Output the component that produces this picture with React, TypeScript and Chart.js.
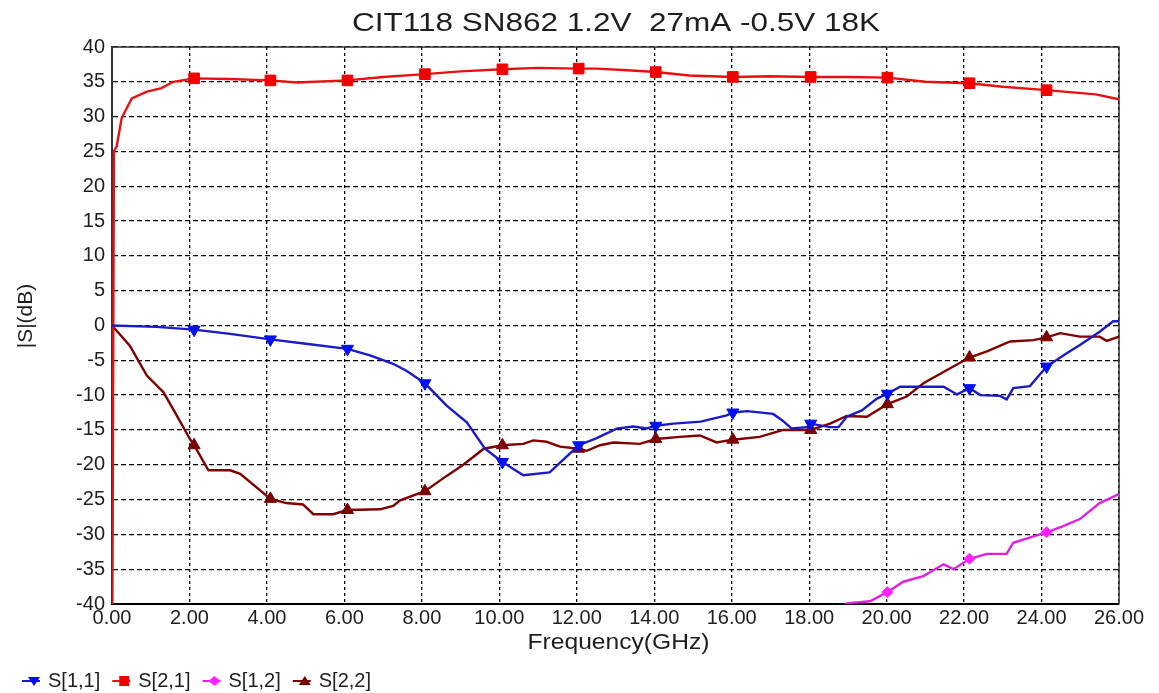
import React, { useEffect, useRef } from 'react';
import { Chart, registerables } from 'chart.js';

Chart.register(...registerables);

const chartTitle = 'CIT118 SN862 1.2V  27mA -0.5V 18K';
const xAxisTitle = 'Frequency(GHz)';
const yAxisTitle = '|S|(dB)';
const seriesNames = ['S[1,1]', 'S[2,1]', 'S[1,2]', 'S[2,2]'];

const xMin = 0;
const xMax = 26;
const xStep = 2;
const yMin = -40;
const yMax = 40;
const yStep = 5;

const markerFreqs = [2.12, 4.09, 6.08, 8.08, 10.08, 12.05, 14.04, 16.03, 18.04, 20.02, 22.14, 24.13];

const s11Freq = [0, 1.15, 2.12, 3.05, 4.09, 5.11, 6.08, 6.66, 7.26, 7.6, 8.08, 8.64, 9.16, 9.63, 10.08, 10.62, 11.3, 12.05, 12.5, 13.03, 13.46, 13.8, 14.04, 14.5, 15.2, 15.87, 16.03, 16.4, 17.07, 17.3, 17.55, 17.94, 18.04, 18.54, 18.76, 18.97, 19.36, 19.75, 20.02, 20.35, 20.87, 21.47, 21.82, 22.14, 22.42, 22.93, 23.1, 23.27, 23.7, 24.13, 24.65, 24.99, 25.5, 25.85, 26.0];
const s11Db = [0, -0.2, -0.6, -1.2, -2.0, -2.7, -3.35, -4.3, -5.5, -6.5, -8.3, -11.5, -13.9, -17.7, -19.6, -21.5, -21.1, -17.2, -16.2, -14.8, -14.5, -14.8, -14.4, -14.1, -13.8, -12.9, -12.5, -12.3, -12.7, -13.6, -14.8, -14.6, -14.1, -14.6, -14.6, -13.1, -12.2, -10.5, -9.8, -8.8, -8.8, -8.8, -9.9, -9.0, -10.0, -10.1, -10.6, -9.0, -8.7, -5.9, -4.0, -2.8, -0.9, 0.6, 0.6];

const s21Freq = [0.01, 0.05, 0.12, 0.25, 0.51, 0.9, 1.28, 1.58, 2.12, 3.0, 4.09, 4.77, 6.08, 7.0, 8.08, 9.0, 10.08, 11.0, 12.05, 12.5, 13.2, 14.04, 14.9, 16.03, 17.0, 18.04, 19.0, 20.02, 21.0, 22.14, 23.0, 24.13, 25.4, 26.0];
const s21Db = [-40, 25, 25.7, 29.8, 32.6, 33.6, 34.1, 35.0, 35.5, 35.4, 35.2, 34.9, 35.2, 35.7, 36.1, 36.5, 36.8, 37.0, 36.9, 36.9, 36.7, 36.4, 35.9, 35.7, 35.8, 35.7, 35.7, 35.6, 35.0, 34.8, 34.3, 33.8, 33.2, 32.5];

const s12Freq = [18.8, 18.97, 19.57, 20.02, 20.43, 20.95, 21.47, 21.73, 22.14, 22.59, 23.1, 23.27, 23.79, 24.13, 24.56, 24.99, 25.5, 26.0];
const s12Db = [-40.6, -39.9, -39.6, -38.3, -36.8, -36.0, -34.3, -35.0, -33.5, -32.8, -32.8, -31.2, -30.3, -29.7, -28.8, -27.8, -25.5, -24.2];

const s22Freq = [0, 0.46, 0.9, 1.33, 1.67, 2.01, 2.12, 2.49, 3.05, 3.31, 4.09, 4.5, 4.93, 5.2, 5.71, 6.08, 6.92, 7.26, 7.44, 8.08, 8.64, 9.07, 9.6, 10.08, 10.62, 10.88, 11.22, 11.57, 12.05, 12.26, 12.6, 12.95, 13.63, 14.04, 14.66, 15.18, 15.61, 16.03, 16.72, 17.33, 17.76, 18.04, 18.54, 18.97, 19.49, 20.02, 20.52, 20.95, 21.56, 22.14, 22.59, 23.19, 23.79, 24.13, 24.48, 24.99, 25.5, 25.68, 26.0];
const s22Db = [0, -2.9, -7.2, -9.6, -12.9, -16.3, -17.2, -20.8, -20.8, -21.3, -24.9, -25.5, -25.7, -27.1, -27.1, -26.5, -26.4, -25.9, -25.1, -23.8, -21.6, -20.0, -17.7, -17.2, -17.0, -16.5, -16.7, -17.4, -17.7, -18.0, -17.2, -16.8, -17.0, -16.3, -16.0, -15.8, -16.8, -16.4, -16.0, -15.0, -15.0, -15.0, -14.1, -13.0, -13.1, -11.3, -10.2, -8.3, -6.4, -4.6, -3.7, -2.3, -2.1, -1.7, -1.1, -1.6, -1.6, -2.2, -1.6];

const FONT = "'Liberation Sans', Arial, sans-serif";
const TEXT_COLOR = '#1e1e1e';

const styles = [
  { line: '#1a1ac8', marker: '#0010f0', shape: 'triDown', pointStyle: 'triangle', rotation: 180, radius: 7 },
  { line: '#e81010', marker: '#f00000', shape: 'square', pointStyle: 'rect', rotation: 0, radius: 7.5 },
  { line: '#e020e0', marker: '#ff20ff', shape: 'diamond', pointStyle: 'rectRot', rotation: 0, radius: 5.5 },
  { line: '#800000', marker: '#7a0000', shape: 'triUp', pointStyle: 'triangle', rotation: 0, radius: 7 },
];

function toPoints(f: number[], v: number[]) {
  return f.map((x, i) => ({ x, y: v[i] }));
}

function drawIcon(ctx: CanvasRenderingContext2D, shape: string, cx: number, cy: number, color: string) {
  ctx.fillStyle = color;
  ctx.beginPath();
  if (shape === 'triDown') {
    ctx.moveTo(cx - 6, cy - 4);
    ctx.lineTo(cx + 6, cy - 4);
    ctx.lineTo(cx, cy + 5);
  } else if (shape === 'triUp') {
    ctx.moveTo(cx - 6, cy + 4);
    ctx.lineTo(cx + 6, cy + 4);
    ctx.lineTo(cx, cy - 5);
  } else if (shape === 'square') {
    ctx.rect(cx - 5, cy - 5, 10, 10);
  } else {
    ctx.moveTo(cx, cy - 5);
    ctx.lineTo(cx + 6, cy);
    ctx.lineTo(cx, cy + 5);
    ctx.lineTo(cx - 6, cy);
  }
  ctx.closePath();
  ctx.fill();
}

const decorPlugin = {
  id: 'decor',
  beforeDatasetsDraw(chart: any) {
    const { ctx, chartArea } = chart;
    ctx.save();
    ctx.strokeStyle = '#333';
    ctx.lineWidth = 1.5;
    ctx.beginPath();
    ctx.moveTo(chartArea.left, chartArea.top);
    ctx.lineTo(chartArea.right, chartArea.top);
    ctx.lineTo(chartArea.right, chartArea.bottom);
    ctx.stroke();
    ctx.restore();
  },
  afterDraw(chart: any) {
    const { ctx, chartArea } = chart;
    ctx.save();
    ctx.fillStyle = TEXT_COLOR;

    ctx.font = `25px ${FONT}`;
    ctx.textAlign = 'center';
    ctx.textBaseline = 'alphabetic';
    let w = ctx.measureText(chartTitle).width;
    ctx.save();
    ctx.translate(616, 31);
    ctx.scale(528 / w, 1);
    ctx.fillText(chartTitle, 0, 0);
    ctx.restore();

    ctx.font = `22px ${FONT}`;
    w = ctx.measureText(xAxisTitle).width;
    ctx.save();
    ctx.translate((chartArea.left + chartArea.right) / 2 + 3, 649);
    ctx.scale(182 / w, 1);
    ctx.fillText(xAxisTitle, 0, 0);
    ctx.restore();

    ctx.font = `21px ${FONT}`;
    ctx.save();
    ctx.translate(26, 316);
    ctx.rotate(-Math.PI / 2);
    ctx.textBaseline = 'middle';
    ctx.fillText(yAxisTitle, 0, 0);
    ctx.restore();

    ctx.font = `20px ${FONT}`;
    ctx.textAlign = 'left';
    ctx.textBaseline = 'middle';
    let x = 22;
    const y = 681;
    seriesNames.forEach((name, i) => {
      const st = styles[i];
      ctx.strokeStyle = st.line;
      ctx.lineWidth = 2;
      ctx.beginPath();
      ctx.moveTo(x, y);
      ctx.lineTo(x + 18, y);
      ctx.stroke();
      drawIcon(ctx, st.shape, x + 12, y, st.marker);
      ctx.fillStyle = TEXT_COLOR;
      ctx.fillText(name, x + 26, y);
      x = x + 26 + ctx.measureText(name).width + 12;
    });
    ctx.restore();
  },
};

export default function App() {
  const canvasRef = useRef<HTMLCanvasElement | null>(null);

  useEffect(() => {
    const canvas = canvasRef.current;
    if (!canvas) return;
    const seriesData = [
      toPoints(s11Freq, s11Db),
      toPoints(s21Freq, s21Db),
      toPoints(s12Freq, s12Db),
      toPoints(s22Freq, s22Db),
    ];
    const datasets = seriesNames.map((name, i) => {
      const st = styles[i];
      return {
        label: name,
        data: seriesData[i],
        borderColor: st.line,
        backgroundColor: st.marker,
        borderWidth: 2.4,
        tension: 0,
        fill: false,
        pointStyle: st.pointStyle,
        rotation: st.rotation,
        pointBackgroundColor: st.marker,
        pointBorderColor: st.marker,
        pointBorderWidth: 1,
        pointRadius: (c: any) => (c.raw && markerFreqs.includes(c.raw.x) ? st.radius : 0),
        pointHoverRadius: 0,
      };
    });

    const chart = new Chart(canvas, {
      type: 'line',
      data: { datasets: datasets as any },
      plugins: [decorPlugin],
      options: {
        animation: false,
        responsive: false,
        maintainAspectRatio: false,
        events: [],
        layout: { padding: { left: 0, right: 40, top: 47, bottom: 0 } },
        plugins: {
          legend: { display: false },
          title: { display: false },
          tooltip: { enabled: false },
        },
        scales: {
          x: {
            type: 'linear',
            min: xMin,
            max: xMax,
            afterFit: (s: any) => { s.height = 89; },
            afterBuildTicks: (s: any) => {
              const t = [];
              for (let v = xMin; v <= xMax + 1e-9; v += xStep) t.push({ value: v });
              s.ticks = t;
            },
            ticks: {
              stepSize: xStep,
              autoSkip: false,
              maxRotation: 0,
              padding: 2,
              color: TEXT_COLOR,
              font: { family: FONT, size: 20 },
              callback: (v: any) => Number(v).toFixed(2),
            },
            grid: { color: '#000', lineWidth: 1.3, drawTicks: false },
            border: { display: true, color: '#000', width: 2, dash: [3, 3] },
          },
          y: {
            type: 'linear',
            min: yMin,
            max: yMax,
            afterFit: (s: any) => { s.width = 112; },
            ticks: {
              stepSize: yStep,
              padding: 7,
              color: TEXT_COLOR,
              font: { family: FONT, size: 20 },
            },
            grid: { color: '#000', lineWidth: 1.3, drawTicks: false },
            border: { display: true, color: '#333', width: 2, dash: [5, 3] },
          },
        },
      },
    });
    return () => chart.destroy();
  }, []);

  return (
    <div style={{ position: 'absolute', left: 0, top: 0, width: 1159, height: 693, background: '#fff' }}>
      <canvas ref={canvasRef} width={1159} height={693} style={{ width: 1159, height: 693, display: 'block' }} />
    </div>
  );
}
